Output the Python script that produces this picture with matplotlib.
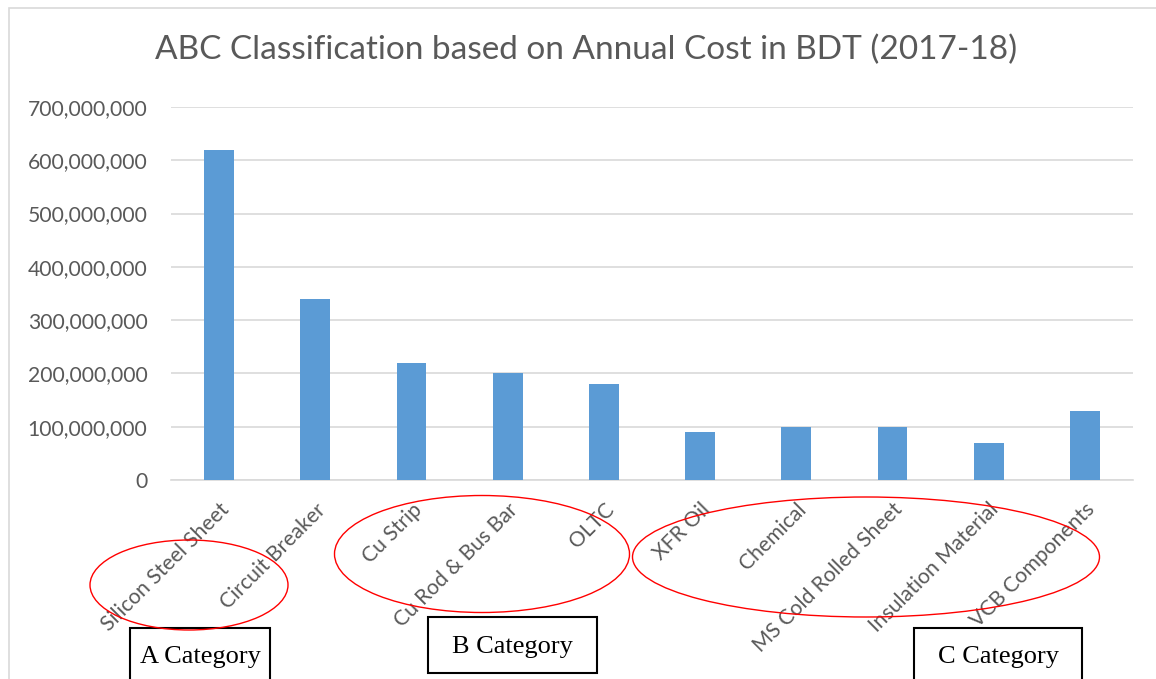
import numpy as np
import matplotlib.pyplot as plt
from matplotlib.patches import Ellipse, Rectangle
from matplotlib.ticker import FuncFormatter


items = ['Silicon Steel Sheet', 'Circuit Breaker', 'Cu Strip', 'Cu Rod & Bus Bar', 'OLTC',
         'XFR Oil', 'Chemical', 'MS Cold Rolled Sheet', 'Insulation Material', 'VCB Components']
annual_cost = [620e6, 340e6, 220e6, 200e6, 180e6, 90e6, 100e6, 100e6, 70e6, 130e6]
y_ticks = [0, 100e6, 200e6, 300e6, 400e6, 500e6, 600e6, 700e6]
category_names = ['A Category', 'B Category', 'C Category']

W, H = 1156, 679

plt.rcParams['font.family'] = ['Lato', 'DejaVu Sans']


def fx(px):
    return px / W


def fy(py):
    return 1 - py / H


def plot_abc_chart():
    fig = plt.figure(figsize=(W / 100, H / 100), dpi=100)
    ax = fig.add_axes([fx(171), fy(480), fx(1133) - fx(171), fy(107) - fy(480)])

    x = np.arange(len(items))
    ax.bar(x, annual_cost, width=0.31, color='#5B9BD5', zorder=3)

    ax.set_xlim(-0.5, len(items) - 0.5)
    ax.set_ylim(0, 700e6)
    ax.set_yticks(y_ticks)
    ax.yaxis.set_major_formatter(FuncFormatter(lambda v, p: f'{int(v):,}'))
    ax.grid(axis='y', color='#D9D9D9', linewidth=1.2, zorder=0)
    for s in ['top', 'right', 'left']:
        ax.spines[s].set_visible(False)
    ax.spines['bottom'].set_color('#D9D9D9')
    ax.spines['bottom'].set_linewidth(1.2)
    ax.tick_params(axis='both', length=0, labelsize=15.2, labelcolor='#595959')
    ax.tick_params(axis='y', pad=17)
    ax.set_xticks(x)
    ax.set_xticklabels(items, rotation=45, ha='right', rotation_mode='anchor')
    ax.tick_params(axis='x', pad=14)

    fig.text(fx(586), fy(50), 'ABC Classification based on Annual Cost in BDT (2017-18)',
             ha='center', va='center', fontsize=24, color='#595959')

    # chart border
    fig.patches.append(Rectangle((fx(9), -0.1), 1.2, fy(8) + 0.1, transform=fig.transFigure,
                                 fill=False, edgecolor='#D9D9D9', linewidth=1.2))

    # red ellipses around groups
    for cx, cy, w, h in [(189, 585, 198, 90), (482, 554, 295, 117), (866, 557, 467, 120)]:
        fig.patches.append(Ellipse((fx(cx), fy(cy)), w / W, h / H, transform=fig.transFigure,
                                   fill=False, edgecolor='red', linewidth=1.0, zorder=5))

    # category boxes
    boxes = [(130, 628, 270, 700), (428, 617, 597, 673), (914, 628, 1082, 700)]
    for name, (x0, y0, x1, y1) in zip(category_names, boxes):
        fig.patches.append(Rectangle((fx(x0), fy(y1)), (x1 - x0) / W, (y1 - y0) / H,
                                     transform=fig.transFigure, fill=False,
                                     edgecolor='black', linewidth=1.5))
        ty = (y0 + min(y1, 682)) / 2 + 2
        fig.text(fx((x0 + x1) / 2), fy(ty), name, ha='center', va='center',
                 fontsize=19, family='Liberation Serif', color='black')

    fig.savefig('out.png', dpi=100)


plot_abc_chart()
